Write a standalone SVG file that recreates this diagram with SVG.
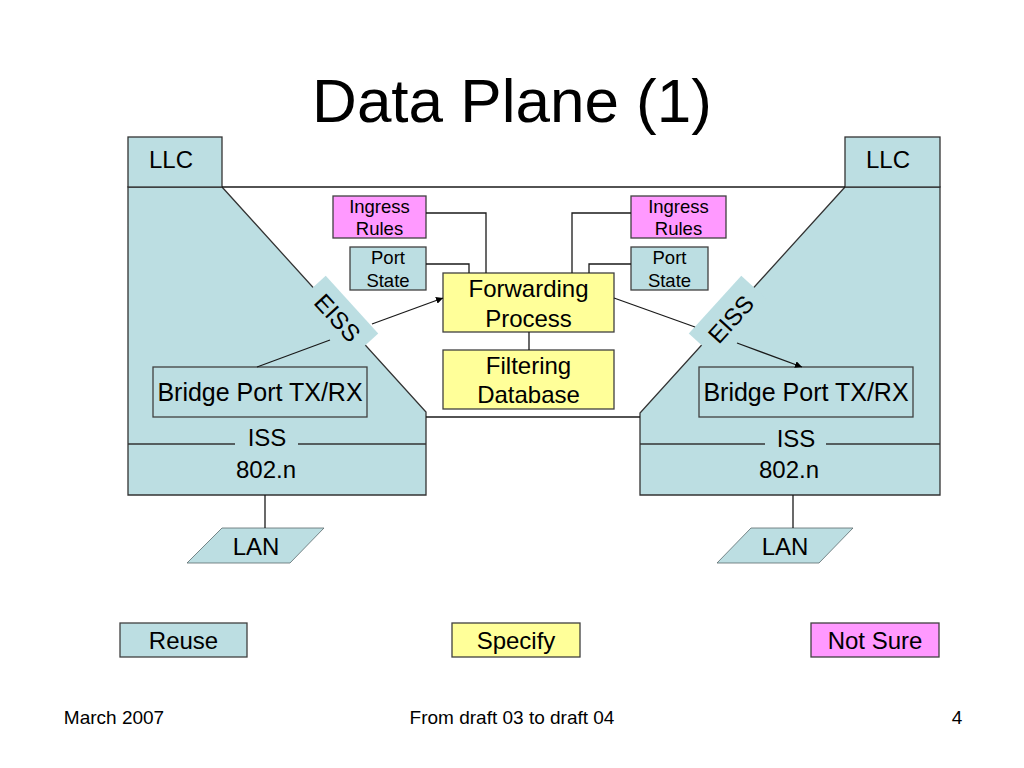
<svg xmlns="http://www.w3.org/2000/svg" width="1024" height="768" viewBox="0 0 1024 768">
<defs>
<style>
text{font-family:"Liberation Sans",Arial,sans-serif;fill:#000;text-anchor:middle}
.blue{fill:#BCDEE2}
.yel{fill:#FFFF99}
.mag{fill:#FF99FF}
.box{stroke:#404040;stroke-width:1.3}
.edge{stroke:#333;stroke-width:1.3}
.ln{stroke:#1a1a1a;stroke-width:1.3;fill:none}
.t24{font-size:24px}
.t25{font-size:25px}
.t18{font-size:18.5px}
.t19{font-size:19px}
</style>
<marker id="ah" viewBox="0 0 10 10" refX="10" refY="5" markerWidth="7" markerHeight="7" markerUnits="userSpaceOnUse" orient="auto">
<path d="M0,0 L10,5 L0,10 Z" fill="#000"/>
</marker>
</defs>
<rect width="1024" height="768" fill="#fff"/>
<text x="512" y="122" style="font-size:62px">Data Plane (1)</text>

<g id="left-bridge">
<path class="blue edge" d="M128,187 H222 L426,412 V495 H128 Z"/>
<rect class="blue edge" x="128" y="137" width="94" height="50"/>
<text class="t24" x="171" y="168">LLC</text>
<line class="edge" x1="128" y1="444" x2="235" y2="444"/>
<line class="edge" x1="298" y1="444" x2="426" y2="444"/>
<text class="t24" x="267" y="446">ISS</text>
<text class="t24" x="266" y="478">802.n</text>
</g>
<g id="left-eiss">
<g transform="translate(339.4,316.1) rotate(47.7)">
<rect class="blue" x="-39" y="-17" width="78" height="34"/>
<text class="t24" x="0" y="11">EISS</text>
</g>
</g>
<g id="left-bridgeport">
<rect class="blue box" x="153" y="367" width="214" height="50"/>
<text class="t25" x="260" y="401">Bridge Port TX/RX</text>
</g>

<g id="right-bridge">
<path class="blue edge" d="M940,187 H845 L640,413 V495 H940 Z"/>
<rect class="blue edge" x="845" y="137" width="95" height="50"/>
<text class="t24" x="888" y="168">LLC</text>
<line class="edge" x1="640" y1="444" x2="765" y2="444"/>
<line class="edge" x1="826" y1="444" x2="940" y2="444"/>
<text class="t24" x="796" y="447">ISS</text>
<text class="t24" x="789" y="478">802.n</text>
</g>
<g id="right-eiss">
<g transform="translate(727.6,316.1) rotate(-47.7)">
<rect class="blue" x="-39" y="-17" width="78" height="34"/>
<text class="t24" x="0" y="13">EISS</text>
</g>
</g>
<g id="right-bridgeport">
<rect class="blue box" x="699" y="367" width="214" height="50"/>
<text class="t25" x="806" y="401">Bridge Port TX/RX</text>
</g>

<g id="ingress-left">
<rect class="mag box" x="333" y="196" width="93" height="42"/>
<text class="t18" x="379.5" y="213">Ingress</text>
<text class="t18" x="379.5" y="235">Rules</text>
</g>
<g id="portstate-left">
<rect class="blue box" x="350" y="247" width="76" height="43"/>
<text class="t18" x="388" y="264">Port</text>
<text class="t18" x="388" y="287">State</text>
</g>
<g id="ingress-right">
<rect class="mag box" x="631" y="196" width="95" height="42"/>
<text class="t18" x="678.5" y="213">Ingress</text>
<text class="t18" x="678.5" y="235">Rules</text>
</g>
<g id="portstate-right">
<rect class="blue box" x="631" y="247" width="77" height="43"/>
<text class="t18" x="669.5" y="264">Port</text>
<text class="t18" x="669.5" y="287">State</text>
</g>
<g id="forwarding">
<rect class="yel box" x="443" y="273" width="171" height="59"/>
<text class="t24" x="528.5" y="297">Forwarding</text>
<text class="t24" x="528.5" y="327">Process</text>
</g>
<g id="filtering">
<rect class="yel box" x="443" y="350" width="171" height="59"/>
<text class="t24" x="528.5" y="374">Filtering</text>
<text class="t24" x="528.5" y="403">Database</text>
</g>

<g id="lan-left">
<path class="blue" stroke="#5a6a6c" stroke-width="0.8" d="M222,528 H324 L290,563 H187 Z"/>
<text class="t24" x="256" y="555">LAN</text>
</g>
<g id="lan-right">
<path class="blue" stroke="#5a6a6c" stroke-width="0.8" d="M751,528 H853 L819,563 H717 Z"/>
<text class="t24" x="785" y="555">LAN</text>
</g>

<g id="connectors">
<line class="ln" x1="222" y1="187" x2="845" y2="187"/>
<line class="ln" x1="426" y1="417" x2="640" y2="417"/>
<polyline class="ln" points="426,213 486,213 486,273"/>
<polyline class="ln" points="426,264 469,264 469,273"/>
<polyline class="ln" points="631,213 572,213 572,273"/>
<polyline class="ln" points="631,264 589,264 589,273"/>
<line class="ln" x1="529" y1="332" x2="529" y2="350" stroke="#555"/>
<line class="ln" x1="372" y1="324" x2="443" y2="298" marker-end="url(#ah)"/>
<line class="ln" x1="257" y1="367" x2="330" y2="340"/>
<line class="ln" x1="614" y1="298" x2="695" y2="327"/>
<line class="ln" x1="737" y1="343" x2="802" y2="367" marker-end="url(#ah)"/>
<line class="ln" x1="265" y1="495" x2="265" y2="528"/>
<line class="ln" x1="793" y1="495" x2="793" y2="528"/>
</g>

<g id="legend-reuse">
<rect class="blue box" x="120" y="623" width="127" height="34"/>
<text class="t24" x="183.5" y="649">Reuse</text>
</g>
<g id="legend-specify">
<rect class="yel box" x="452" y="623" width="128" height="34"/>
<text class="t24" x="516" y="649">Specify</text>
</g>
<g id="legend-notsure">
<rect class="mag box" x="811" y="623" width="128" height="34"/>
<text class="t24" x="875" y="649">Not Sure</text>
</g>

<text class="t19" x="114" y="724">March 2007</text>
<text class="t19" x="512" y="724">From draft 03 to draft 04</text>
<text class="t19" x="957" y="724">4</text>
</svg>
